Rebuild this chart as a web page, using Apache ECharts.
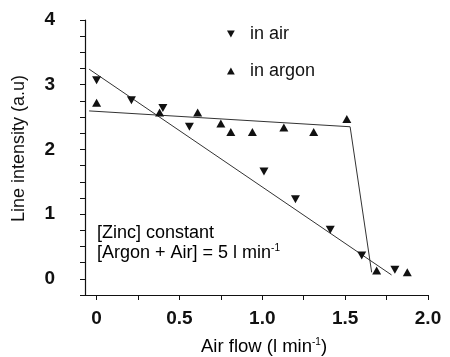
<!DOCTYPE html>
<html>
<head>
<meta charset="utf-8">
<script src="https://cdn.jsdelivr.net/npm/echarts@6/dist/echarts.min.js"></script>
<style>
  html, body { margin: 0; padding: 0; background: #fff; }
  #chart { width: 450px; height: 357px; }
</style>
</head>
<body>
<div id="chart"></div>
<script>
// Zinc line intensity versus air flow, measured in air and in argon
const airFlowInAir = [0.0, 0.21, 0.40, 0.56, 1.01, 1.20, 1.41, 1.60, 1.80];
const intensityInAir = [3.07, 2.76, 2.64, 2.35, 1.66, 1.23, 0.76, 0.36, 0.14];

const airFlowInArgon = [0.0, 0.38, 0.61, 0.75, 0.81, 0.94, 1.13, 1.31, 1.51, 1.69, 1.875];
const intensityInArgon = [2.72, 2.57, 2.57, 2.40, 2.27, 2.27, 2.34, 2.27, 2.47, 0.13, 0.10];

// Hand-drawn trend lines
const trendAirX = [-0.045, 1.78];
const trendAirY = [3.24, 0.06];
const trendArgonX = [-0.045, 1.53, 1.66];
const trendArgonY = [2.595, 2.35, 0.10];

const xTicks = [0, 0.25, 0.5, 0.75, 1.0, 1.25, 1.5, 1.75, 2.0];
const xTickLabels = [0, 0.5, 1.0, 1.5, 2.0];
const yTickLabels = [0, 1, 2, 3, 4];

const pairs = (xs, ys) => xs.map((x, i) => [x, ys[i]]);

const FONT = '"Liberation Sans", Arial, sans-serif';
const INK = '#111';
const DOWN_TRI = 'path://M0,0 L10,0 L5,9 Z';
const UP_TRI = 'path://M5,0 L10,9 L0,9 Z';

const chart = echarts.init(document.getElementById('chart'), null, { renderer: 'canvas' });

chart.setOption({
  animation: false,
  backgroundColor: '#fff',
  grid: { left: 85, right: 22, top: 20, bottom: 62, containLabel: false },
  legend: {
    orient: 'vertical',
    left: 222,
    top: 20,
    itemGap: 19,
    itemWidth: 8,
    itemHeight: 7,
    data: [
      { name: 'in air', icon: DOWN_TRI },
      { name: 'in argon', icon: UP_TRI }
    ],
    itemStyle: { opacity: 1 },
    textStyle: { fontFamily: FONT, fontSize: 18, color: INK, padding: [0, 0, 2, 10] }
  },
  xAxis: {
    type: 'value',
    min: -0.07,
    max: 2.0,
    splitLine: { show: false },
    axisLine: { onZero: false, lineStyle: { color: INK, width: 1.2 } },
    axisTick: { show: true, length: 5, customValues: xTicks, lineStyle: { color: INK } },
    axisLabel: {
      customValues: xTickLabels,
      margin: 14,
      fontFamily: FONT,
      fontSize: 19,
      fontWeight: 'bold',
      color: INK,
      formatter: v => (v === 0 ? '0' : v.toFixed(1))
    }
  },
  yAxis: {
    type: 'value',
    min: -0.25,
    max: 4,
    interval: 0.25,
    name: 'Line intensity (a.u)',
    nameLocation: 'middle',
    nameGap: 57,
    nameTextStyle: {
      fontFamily: FONT,
      fontSize: 18,
      color: INK,
      padding: [0, 0, 0, 18]
    },
    splitLine: { show: false },
    axisLine: { onZero: false, lineStyle: { color: INK, width: 1.2 } },
    axisTick: { show: true, length: 5, lineStyle: { color: INK } },
    axisLabel: {
      customValues: yTickLabels,
      margin: 30,
      fontFamily: FONT,
      fontSize: 19,
      fontWeight: 'bold',
      color: INK
    }
  },
  graphic: [
    {
      type: 'text',
      left: 201,
      top: 337,
      style: {
        text: '{n|Air flow (l min}{s|-1}{n|)}',
        rich: {
          n: { fontFamily: FONT, fontSize: 18.5, color: INK },
          s: { fontFamily: FONT, fontSize: 10, color: INK, verticalAlign: 'top', padding: [0, 0, 8, 0] }
        }
      }
    },
    {
      type: 'text',
      left: 97,
      top: 224,
      style: {
        text: '{n|[Zinc] constant}\n{n|[Argon + Air] = 5 l min}{s|-1}',
        rich: {
          n: { fontFamily: FONT, fontSize: 18, color: INK, lineHeight: 20 },
          s: { fontFamily: FONT, fontSize: 10, color: INK, verticalAlign: 'top', padding: [0, 0, 8, 0] }
        }
      }
    }
  ],
  series: [
    {
      name: 'trend air',
      type: 'line',
      data: pairs(trendAirX, trendAirY),
      symbol: 'none',
      lineStyle: { color: '#333', width: 1 },
      silent: true,
      z: 1
    },
    {
      name: 'trend argon',
      type: 'line',
      data: pairs(trendArgonX, trendArgonY),
      symbol: 'none',
      lineStyle: { color: '#333', width: 1 },
      silent: true,
      z: 1
    },
    {
      name: 'in air',
      type: 'scatter',
      data: pairs(airFlowInAir, intensityInAir),
      symbol: DOWN_TRI,
      symbolSize: [9, 8],
      itemStyle: { color: INK, opacity: 1 },
      z: 3
    },
    {
      name: 'in argon',
      type: 'scatter',
      data: pairs(airFlowInArgon, intensityInArgon),
      symbol: UP_TRI,
      symbolSize: [9, 8],
      itemStyle: { color: INK, opacity: 1 },
      z: 3
    }
  ]
});
</script>
</body>
</html>
